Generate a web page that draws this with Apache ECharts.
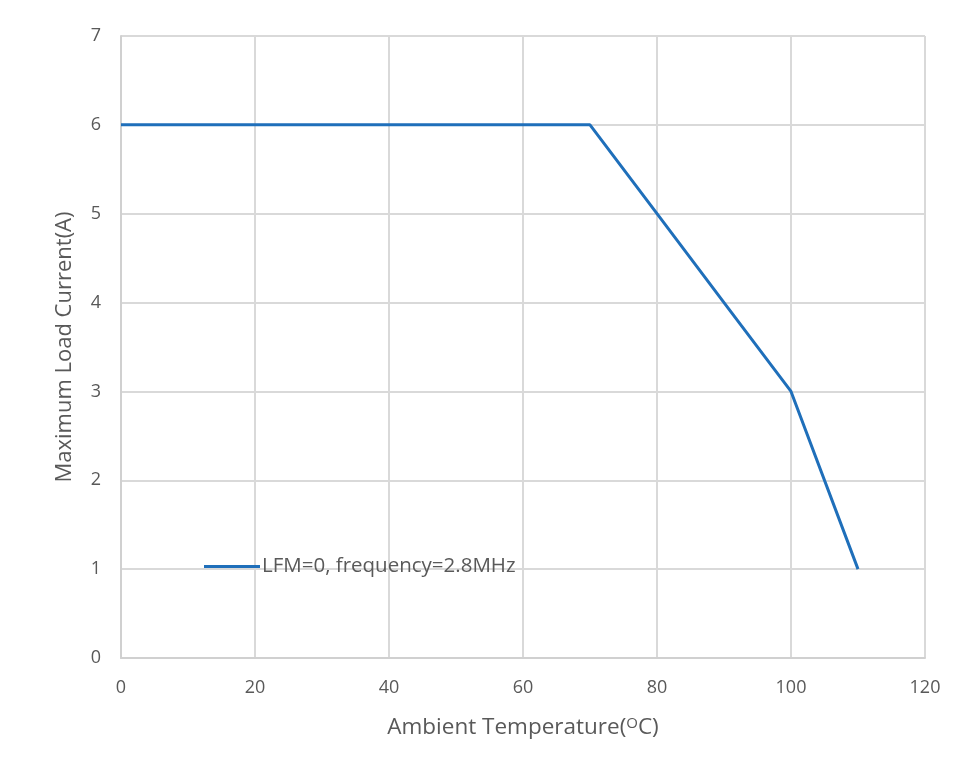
<!DOCTYPE html>
<html>
<head>
<meta charset="utf-8">
<script src="https://cdn.jsdelivr.net/npm/echarts@6/dist/echarts.min.js"></script>
<style>html,body{margin:0;padding:0;background:#fff}#c{width:954px;height:770px}</style>
</head>
<body>
<div id="c"></div>
<script>
const seriesName = 'LFM=0, frequency=2.8MHz';
const temperatures = [0, 70, 80, 90, 100, 110];
const currents = [6, 6, 5, 4, 3, 1];
const xTicks = [0, 20, 40, 60, 80, 100, 120];
const yTicks = [0, 1, 2, 3, 4, 5, 6, 7];

const FONT = '"Open Sans", "Liberation Sans", sans-serif';
const TXT = '#595959';
const chart = echarts.init(document.getElementById('c'));
chart.setOption({
  animation: false,
  backgroundColor: '#fff',
  textStyle: { fontFamily: FONT },
  grid: { left: 121, right: 29, top: 36, bottom: 112 },
  legend: {
    left: 199, top: 551,
    itemWidth: 56, itemHeight: 14, itemGap: 4,
    icon: 'path://M0,5.5 L56,5.5 L56,8.5 L0,8.5 Z',
    textStyle: { color: TXT, fontSize: 20.5, fontFamily: FONT, padding: [0, 0, 0, -3] },
    data: [seriesName]
  },
  xAxis: {
    type: 'value', min: xTicks[0], max: xTicks[xTicks.length - 1], interval: 20,
    name: 'Ambient Temperature({sup|O}C)', nameLocation: 'middle', nameGap: 58,
    nameTextStyle: { color: TXT, fontSize: 22.5, fontFamily: FONT,
      rich: { sup: { fontSize: 15, verticalAlign: 'top', padding: [0, 0, 9, 0], color: TXT } } },
    axisLine: { show: true, lineStyle: { color: '#d0d0d0', width: 2 } },
    axisTick: { show: false },
    axisLabel: { color: TXT, fontSize: 18, margin: 21 },
    splitLine: { show: true, lineStyle: { color: '#d9d9d9', width: 2 } }
  },
  yAxis: {
    type: 'value', min: yTicks[0], max: yTicks[yTicks.length - 1], interval: 1,
    name: 'Maximum Load Current(A)', nameLocation: 'middle', nameGap: 45,
    nameTextStyle: { color: TXT, fontSize: 22, fontFamily: FONT },
    axisLine: { show: true, lineStyle: { color: '#d0d0d0', width: 2 } },
    axisTick: { show: false },
    axisLabel: { color: TXT, fontSize: 18, margin: 20 },
    splitLine: { show: true, lineStyle: { color: '#d9d9d9', width: 2 } }
  },
  series: [{
    name: seriesName,
    type: 'line',
    data: temperatures.map((t, i) => [t, currents[i]]),
    symbol: 'none',
    lineStyle: { color: '#1f6fba', width: 3 },
    itemStyle: { color: '#1f6fba' }
  }]
});
</script>
</body>
</html>
